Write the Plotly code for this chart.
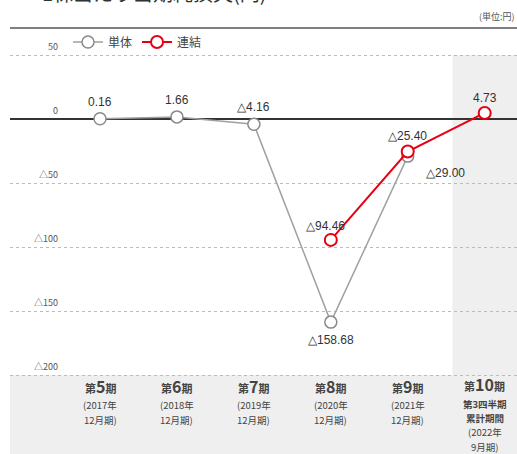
import plotly.graph_objects as go

periods = ["第5期", "第6期", "第7期", "第8期", "第9期", "第10期"]
period_nums = ["5", "6", "7", "8", "9", "10"]
period_sub = [["(2017年", "12月期)"], ["(2018年", "12月期)"], ["(2019年", "12月期)"],
              ["(2020年", "12月期)"], ["(2021年", "12月期)"],
              ["<b>第3四半期</b>", "<b>累計期間</b>", "(2022年", "9月期)"]]
tandoku = [0.16, 1.66, -4.16, -158.68, -29.00, None]
renketsu = [None, None, None, -94.46, -25.40, 4.73]
ytick_vals = [50, 0, -50, -100, -150, -200]
ytick_text = ["50", "0", "△50", "△100", "△150", "△200"]

# label offsets (px) for each data label
tandoku_shift = [(0, 17), (0, 17), (0, 17), (0, -18), (38, -17), None]
renketsu_shift = [None, None, None, (-5, 14), (0, 16), (0, 15)]

def fmt(v):
    return ("△%.2f" % abs(v)) if v < 0 else ("%.2f" % v)

x = list(range(len(periods)))
FONT = "Noto Sans CJK JP"
GRAY = "#8a8a8a"
RED = "#e60012"

W, H = 517, 454
PL, PT = 10, 28
PW, PH = W - PL, H - PT
Y0PIX, PXPU = 119, 1.28   # pixel of value 0 and pixels per unit

def yval(py):
    return (Y0PIX - py) / PXPU

fig = go.Figure()
fig.add_trace(go.Scatter(
    x=x, y=tandoku, mode="lines+markers", name="単体",
    line=dict(color="#a0a0a0", width=1.5),
    marker=dict(symbol="circle", size=12, color="white", line=dict(color=GRAY, width=1.5)),
))
fig.add_trace(go.Scatter(
    x=x, y=renketsu, mode="lines+markers", name="連結",
    line=dict(color=RED, width=2),
    marker=dict(symbol="circle", size=12, color="white", line=dict(color=RED, width=2)),
))

shapes = []
shapes.append(dict(type="rect", xref="paper", yref="y", x0=0, x1=1, y0=-200, y1=-270,
                   fillcolor="#efefef", line=dict(width=0), layer="below"))
shapes.append(dict(type="rect", xref="x", yref="y", x0=4.58, x1=5.6, y0=50, y1=-270,
                   fillcolor="#efefef", line=dict(width=0), layer="below"))
shapes.append(dict(type="line", xref="paper", yref="paper", x0=0, x1=1, y0=1, y1=1,
                   line=dict(color="#555", width=1.5)))

annotations = []
for v, t in zip(ytick_vals, ytick_text):
    annotations.append(dict(x=-0.52, y=v, xref="x", yref="y", text=t, showarrow=False,
                            xanchor="right", yanchor="middle", yshift=9,
                            font=dict(family=FONT, size=9, color="#555")))
for series, shifts in ((tandoku, tandoku_shift), (renketsu, renketsu_shift)):
    for i, (v, s) in enumerate(zip(series, shifts)):
        if v is None:
            continue
        annotations.append(dict(x=i, y=v, xref="x", yref="y", text=fmt(v), showarrow=False,
                                xshift=s[0], yshift=s[1],
                                font=dict(family="Liberation Sans", size=12, color="#333")))

head_py = {2: 386, 4: 384}
sub_py = {2: [405, 420], 4: [404, 418, 432, 447]}
for i, (num, sub) in enumerate(zip(period_nums, period_sub)):
    n = len(sub)
    annotations.append(dict(
        x=i, y=yval(head_py[n]), xref="x", yref="y", showarrow=False,
        xanchor="center", yanchor="middle", borderpad=0,
        text="<b>第<span style='font-size:16px'>%s</span>期</b>" % num,
        font=dict(family=FONT, size=11, color="#444")))
    for line, py in zip(sub, sub_py[n]):
        annotations.append(dict(
            x=i, y=yval(py), xref="x", yref="y", showarrow=False, borderpad=0,
            xanchor="center", yanchor="middle", text=line,
            font=dict(family=FONT, size=9.5, color="#444")))

annotations.append(dict(x=1, y=1 + (PT - 16) / PH, xref="paper", yref="paper",
                        text="(単位:円)", showarrow=False, xanchor="right", yanchor="middle",
                        font=dict(family=FONT, size=9, color="#555")))
annotations.append(dict(x=(40 - PL) / PW, y=1 + (PT - 9) / PH, xref="paper", yref="paper",
                        text="1株当たり当期純損失(円)", showarrow=False, xanchor="left",
                        yanchor="bottom",
                        font=dict(family=FONT, size=20, color="#333")))

fig.update_layout(
    width=W, height=H,
    margin=dict(l=PL, r=0, t=PT, b=0),
    paper_bgcolor="white", plot_bgcolor="white",
    showlegend=True,
    legend=dict(orientation="h", x=(68 - PL) / PW, y=1 + (PT - 42) / PH,
                xanchor="left", yanchor="middle", bgcolor="rgba(0,0,0,0)",
                font=dict(family=FONT, size=12, color="#444"), itemwidth=30),
    xaxis=dict(range=[-1.17, 5.42], showgrid=False, zeroline=False, showticklabels=False,
               fixedrange=True),
    yaxis=dict(range=[yval(H), yval(PT)], tickvals=[50, -50, -100, -150, -200],
               showgrid=True, gridcolor="#bbbbbb", griddash="dot", gridwidth=1,
               zeroline=True, zerolinecolor="#333", zerolinewidth=1.5,
               showticklabels=False, fixedrange=True),
    shapes=shapes, annotations=annotations,
)

fig.write_html("out.html", config={"displayModeBar": False},
               post_script="document.body.style.margin='0';document.body.style.overflow='hidden';")
